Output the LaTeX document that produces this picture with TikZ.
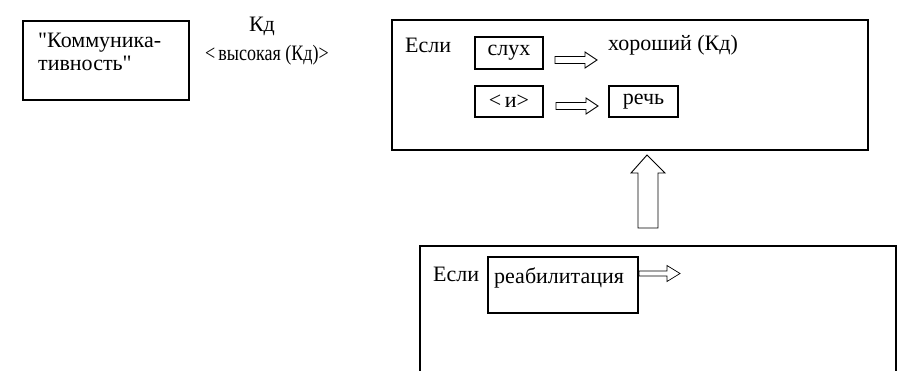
\documentclass[tikz,border=0pt]{standalone}
\usepackage{fontspec}
\setmainfont{Liberation Serif}[Ligatures=TeXOff]
\begin{document}
\begin{tikzpicture}[x=1pt,y=-1pt,
  every node/.style={font=\fontsize{22}{23}\selectfont, inner sep=0pt},
  frame/.style={draw, line width=1.1pt},
  label/.style={anchor=center},
  blockarrow/.style={draw, line width=0.9pt, fill=white, line join=miter}]
\useasboundingbox (0,0) rectangle (899,370);

% left concept box
\node[frame, minimum width=166pt, minimum height=79pt] (concept) at (106,60.5) {};
\node[anchor=west, align=left] (concepttext) at (38,52) {"Коммуника-\\тивность"};

% labels between the boxes
\node[label] (kd) at (262,26) {Кд};
\node[label, xscale=0.82] (high) at (267,55) {<\,высокая (Кд)>};

% upper rule frame
\node[frame, minimum width=476pt, minimum height=130pt] (rule1) at (630,85) {};
\node[anchor=west] (if1) at (405,45) {Если};
\node[frame, minimum width=68pt, minimum height=32pt] (hear) at (509,53) {слух};
\node[anchor=west] (good) at (608,45) {хороший (Кд)};
\node[frame, minimum width=68pt, minimum height=31pt] (andbox) at (509,101.5) {<\,и>};
\node[frame, minimum width=69pt, minimum height=31pt] (speech) at (643.5,101.5) {речь};

% small block arrows inside the upper frame
\coordinate (a1) at (555,60);
\draw[blockarrow] (a1) ++(0,-3.5) -- ++(30,0) -- ++(0,-4.5) -- ++(12,8) -- ++(-12,8) -- ++(0,-4.5) -- ++(-30,0) -- cycle;
\coordinate (a2) at (556,106);
\draw[blockarrow] (a2) ++(0,-3.5) -- ++(30,0) -- ++(0,-4.5) -- ++(12,8) -- ++(-12,8) -- ++(0,-4.5) -- ++(-30,0) -- cycle;

% lower rule frame, open at the bottom
\coordinate (r2bl) at (420,372);
\coordinate (r2tl) at (420,246);
\coordinate (r2tr) at (896,246);
\coordinate (r2br) at (896,372);
\draw[line width=1.1pt] (r2bl) -- (r2tl) -- (r2tr) -- (r2br);
\node[anchor=west] (if2) at (433,274) {Если};
\node[frame, minimum width=150pt, minimum height=56pt] (rehab) at (563,285) {};
\node[anchor=west] (rehabtext) at (494,278) {реабилитация};
\coordinate (a3) at (639,273.5);
\draw[blockarrow, line width=0.7pt] (a3) ++(0,-2.5) -- ++(28,0) -- ++(0,-5.5) -- ++(13,8) -- ++(-13,8) -- ++(0,-5.5) -- ++(-28,0) -- cycle;

% large upward arrow from the lower frame to the upper frame
\coordinate (up) at (647,228);
\draw[blockarrow] (up) ++(-9,0) -- ++(0,-55) -- ++(-7,0) -- ++(16,-18) -- ++(18,18) -- ++(-7,0) -- ++(0,55) -- cycle;
\end{tikzpicture}
\end{document}
